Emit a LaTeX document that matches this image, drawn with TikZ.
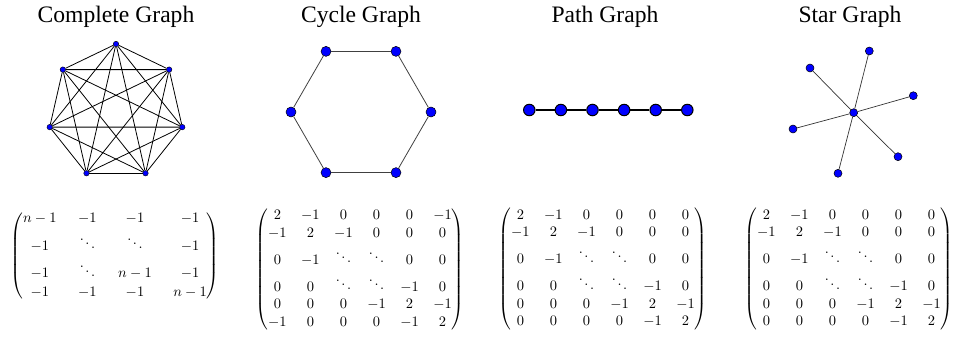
\documentclass[tikz,border=0pt]{standalone}
\usepackage{amsmath}
\usepackage[no-math]{fontspec}
\newfontfamily\titelfont{Liberation Serif}

\tikzset{
  titel/.style={font=\fontsize{23.6}{28}\selectfont\titelfont, anchor=base, inner sep=0pt},
  kvert/.style={circle, fill=blue, draw=black, line width=0.4pt, inner sep=0pt, minimum size=5.5pt},
  cvert/.style={circle, fill=blue, draw=black, line width=0.5pt, inner sep=0pt, minimum size=10pt},
  pvert/.style={circle, fill=blue, draw=black, line width=1pt, inner sep=0pt, minimum size=11.5pt},
  svert/.style={circle, fill=blue, draw=black, line width=0.5pt, inner sep=0pt, minimum size=8pt},
  matbox/.style={scale=1.45, inner sep=0pt}
}

\begin{document}
\begin{tikzpicture}[x=1pt, y=-1pt]
  \useasboundingbox (0,0) rectangle (956,337);
  % Ueberschriften
  \node[titel] (t1) at (116,23) {Complete Graph};
  \node[titel] (t2) at (361,23) {Cycle Graph};
  \node[titel] (t3) at (605,23) {Path Graph};
  \node[titel] (t4) at (850,23) {Star Graph};
  % Vollstaendiger Graph K7
  \foreach \i in {0,...,6}{ \node[kvert] (k\i) at ({116+68*cos(90+\i*360/7)}, {112-68*sin(90+\i*360/7)}) {}; }
  \foreach \i in {0,...,6}{
    \foreach \j in {0,...,6}{ \ifnum\i<\j \draw[black, line width=0.8pt] (k\i) -- (k\j); \fi }
  }
  % Kreisgraph C6
  \foreach \i in {0,...,5}{ \node[cvert] (c\i) at ({361+70*cos(\i*60)}, {112-70*sin(\i*60)}) {}; }
  \foreach \i [evaluate=\i as \n using {int(mod(\i+1,6))}] in {0,...,5}{ \draw[black!75, line width=0.8pt] (c\i) -- (c\n); }
  % Pfadgraph P6
  \foreach \i in {0,...,5}{ \node[pvert] (p\i) at ({529.3+31.6*\i}, 110) {}; }
  \foreach \i [evaluate=\i as \n using {int(\i+1)}] in {0,...,4}{ \draw[black, line width=1.3pt] (p\i) -- (p\n); }
  % Sterngraph S6
  \node[svert] (s0) at (853.7,112.7) {};
  \node[svert] (s1) at (869.3,51) {};
  \node[svert] (s2) at (810,68) {};
  \node[svert] (s3) at (913.3,95.7) {};
  \node[svert] (s4) at (793,129) {};
  \node[svert] (s5) at (898,156.7) {};
  \node[svert] (s6) at (838,173.3) {};
  \foreach \i in {1,...,6}{ \draw[black!80, line width=0.7pt] (s0) -- (s\i); }
  % Laplace-Matrizen
  \node[matbox] (m1) at (115,256) {\setlength{\arraycolsep}{7.4pt}\renewcommand{\arraystretch}{1.1}$\begin{pmatrix}
    n-1 & -1 & -1 & -1\\
    -1 & \ddots & \ddots & -1\\
    -1 & \ddots & n-1 & -1\\
    -1 & -1 & -1 & n-1
  \end{pmatrix}$};
  \node[matbox] (m2) at (360,269.5) {$\begin{pmatrix}
    2 & -1 & 0 & 0 & 0 & -1\\
    -1 & 2 & -1 & 0 & 0 & 0\\
    0 & -1 & \ddots & \ddots & 0 & 0\\
    0 & 0 & \ddots & \ddots & -1 & 0\\
    0 & 0 & 0 & -1 & 2 & -1\\
    -1 & 0 & 0 & 0 & -1 & 2
  \end{pmatrix}$};
  \node[matbox] (m3) at (603,269) {$\begin{pmatrix}
    2 & -1 & 0 & 0 & 0 & 0\\
    -1 & 2 & -1 & 0 & 0 & 0\\
    0 & -1 & \ddots & \ddots & 0 & 0\\
    0 & 0 & \ddots & \ddots & -1 & 0\\
    0 & 0 & 0 & -1 & 2 & -1\\
    0 & 0 & 0 & 0 & -1 & 2
  \end{pmatrix}$};
  \node[matbox] (m4) at (849,269) {$\begin{pmatrix}
    2 & -1 & 0 & 0 & 0 & 0\\
    -1 & 2 & -1 & 0 & 0 & 0\\
    0 & -1 & \ddots & \ddots & 0 & 0\\
    0 & 0 & \ddots & \ddots & -1 & 0\\
    0 & 0 & 0 & -1 & 2 & -1\\
    0 & 0 & 0 & 0 & -1 & 2
  \end{pmatrix}$};
\end{tikzpicture}
\end{document}
